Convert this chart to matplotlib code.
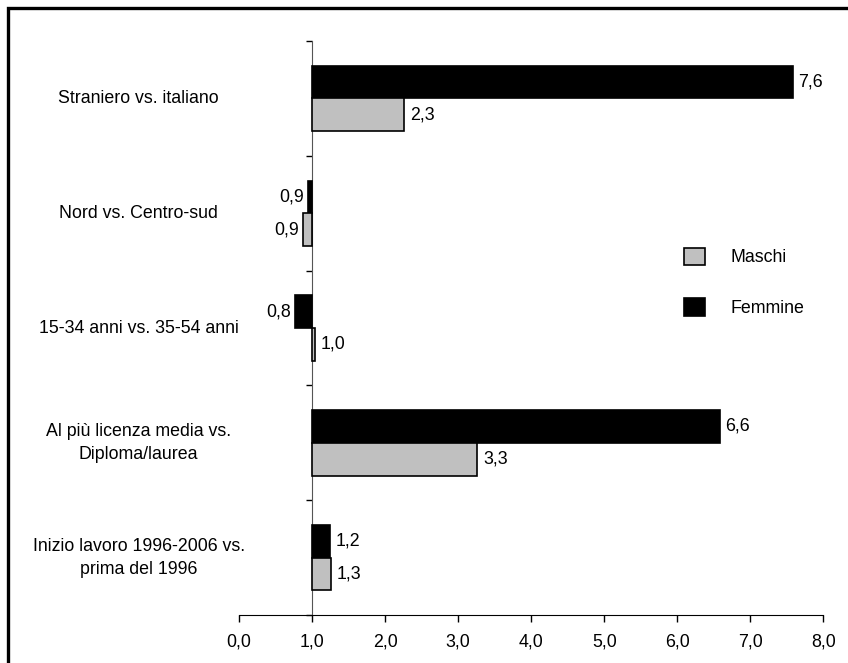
# Odds ratio bars, Maschi vs Femmine
import matplotlib.pyplot as plt
from matplotlib.patches import Rectangle
from matplotlib.ticker import FixedLocator

plt.rcParams['font.family'] = ['Liberation Sans', 'DejaVu Sans']

categories = ["Straniero vs. italiano",
              "Nord vs. Centro-sud",
              "15-34 anni vs. 35-54 anni",
              "Al più licenza media vs.\nDiploma/laurea",
              "Inizio lavoro 1996-2006 vs.\nprima del 1996"]
femmine = [7.58, 0.94, 0.76, 6.58, 1.24]
maschi = [2.26, 0.87, 1.04, 3.26, 1.26]
xticks = [0, 1, 2, 3, 4, 5, 6, 7, 8]

base = 1.0
h = 0.285
fs = 12.8

fig = plt.figure(figsize=(8.48, 6.63), dpi=100)
ax = fig.add_axes([0.282, 0.0724, 0.6888, 0.8656])

ypos = list(range(len(categories)))
yf = [y - h / 2 for y in ypos]
ym = [y + h / 2 for y in ypos]

ax.barh(yf, [v - base for v in femmine], left=base, height=h,
        color="black", edgecolor="black", linewidth=1.2, label="Femmine", zorder=3)
ax.barh(ym, [v - base for v in maschi], left=base, height=h,
        color="#c0c0c0", edgecolor="black", linewidth=1.2, label="Maschi", zorder=3)

def lab(v):
    return f"{v:.1f}".replace(".", ",")

for y, v in zip(yf + ym, femmine + maschi):
    if v >= base:
        ax.text(v + 0.08, y, lab(v), ha="left", va="center", fontsize=fs)
    else:
        ax.text(v - 0.05, y, lab(v), ha="right", va="center", fontsize=fs)

ax.set_xlim(0, 8)
ax.set_ylim(len(categories) - 0.5, -0.5)
ax.set_xticks(xticks)
ax.set_xticklabels([f"{t:.1f}".replace(".", ",") for t in xticks], fontsize=fs)
ax.tick_params(axis="x", direction="out", length=5, width=1, pad=8)

ax.spines["left"].set_position(("data", base))
ax.spines["left"].set_color("#555555")
ax.spines["right"].set_visible(False)
ax.spines["top"].set_visible(False)
ax.yaxis.set_major_locator(FixedLocator([y + 0.5 for y in range(-1, len(categories))]))
ax.set_yticklabels([])
ax.tick_params(axis="y", direction="out", length=4, width=1, color="black")

for y, c in zip(ypos, categories):
    ax.text(-0.172, y, c, transform=ax.get_yaxis_transform(), ha="center",
            va="center", fontsize=fs, multialignment="center", linespacing=1.45)

handles, labels = ax.get_legend_handles_labels()
ax.legend(handles[::-1], labels[::-1], loc="upper left", bbox_to_anchor=(0.735, 0.668),
          frameon=False, fontsize=fs, handlelength=1.15, handleheight=1.15,
          labelspacing=1.8, handletextpad=1.45)

fig.patches.append(Rectangle((0.0095, -0.2), 1.5, 0.988 + 0.2, transform=fig.transFigure,
                             fill=False, edgecolor="black", linewidth=2.4))

plt.savefig("out.png", dpi=100)
